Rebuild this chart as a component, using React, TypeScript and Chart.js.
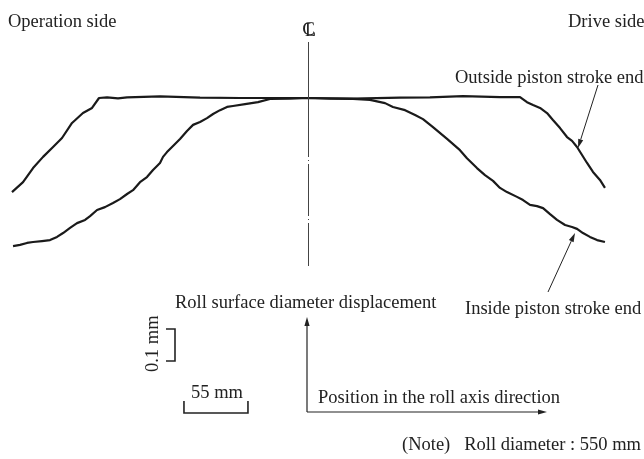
import React, { useEffect, useRef } from "react";
import { Chart, registerables } from "chart.js";

Chart.register(...registerables);

// Position along the roll axis (mm, 0 = roll centre) and roll surface diameter displacement (mm)
const outsideX = [-254.4, -244.9, -236.3, -227.7, -219.1, -211.4, -202.8, -193.4, -185.6, -179.6, -172.7, -163.3, -155.5, -127.2, -92.8, -58.4, -32.7, 0, 38.7, 79.1, 104.8, 133.2, 165.0, 182.2, 188.2, 193.4, 199.4, 205.4, 210.5, 216.6, 222.6, 226.9, 231.2, 235.5, 239.8, 244.9, 250.9, 255.2];
const outsideY = [-0.294, -0.263, -0.219, -0.184, -0.153, -0.125, -0.078, -0.047, -0.031, 0.0, 0.002, -0.001, 0.002, 0.005, 0.001, 0.0, 0.0, 0.0, -0.002, 0.001, 0.002, 0.006, 0.003, 0.003, -0.013, -0.022, -0.031, -0.047, -0.069, -0.094, -0.122, -0.134, -0.153, -0.178, -0.203, -0.231, -0.256, -0.281];

const insideX = [-253.5, -247.5, -241.5, -236.3, -228.6, -221.7, -215.7, -210.5, -204.5, -198.5, -191.6, -187.3, -181.3, -174.5, -167.6, -161.6, -155.5, -150.4, -144.4, -138.4, -133.2, -127.2, -124.6, -121.2, -116.0, -110.0, -104.0, -98.8, -92.8, -86.8, -81.6, -75.6, -69.6, -64.5, -54.1, -43.0, -32.7, -15.5, 0, 18.9, 38.7, 53.3, 66.2, 73.0, 83.4, 92.0, 98.8, 107.4, 119.5, 130.6, 136.6, 145.2, 152.1, 159.0, 165.0, 171.0, 179.6, 184.8, 190.8, 196.8, 202.0, 208.0, 214.0, 220.9, 226.9, 231.2, 236.3, 242.3, 248.4, 255.2];
const insideY = [-0.463, -0.459, -0.453, -0.45, -0.447, -0.444, -0.434, -0.422, -0.406, -0.391, -0.381, -0.369, -0.35, -0.341, -0.328, -0.316, -0.3, -0.288, -0.263, -0.247, -0.225, -0.203, -0.184, -0.169, -0.15, -0.128, -0.103, -0.084, -0.075, -0.063, -0.05, -0.038, -0.028, -0.025, -0.019, -0.013, -0.003, -0.002, 0.0, -0.002, -0.003, -0.006, -0.016, -0.028, -0.038, -0.053, -0.066, -0.091, -0.128, -0.163, -0.188, -0.219, -0.241, -0.259, -0.281, -0.294, -0.309, -0.319, -0.334, -0.338, -0.344, -0.363, -0.381, -0.397, -0.403, -0.409, -0.422, -0.434, -0.444, -0.45];

// Scale bars
const scaleBarLengthMm = 55;
const scaleBarHeightMm = 0.1;

const labels = {
  operation: "Operation side",
  drive: "Drive side",
  outside: "Outside piston stroke end",
  inside: "Inside piston stroke end",
  yAxis: "Roll surface diameter displacement",
  xAxis: "Position in the roll axis direction",
  note: "(Note)   Roll diameter : 550 mm",
  xBar: "55 mm",
  yBar: "0.1 mm",
};

const SERIF = '"Liberation Serif", "Times New Roman", "DejaVu Serif", serif';

function arrow(ctx: CanvasRenderingContext2D, x1: number, y1: number, x2: number, y2: number, head = 9, half = 2.6) {
  ctx.beginPath();
  ctx.moveTo(x1, y1);
  const ang = Math.atan2(y2 - y1, x2 - x1);
  const bx = x2 - Math.cos(ang) * head;
  const by = y2 - Math.sin(ang) * head;
  ctx.lineTo(bx, by);
  ctx.stroke();
  ctx.beginPath();
  ctx.moveTo(x2, y2);
  ctx.lineTo(bx + Math.sin(ang) * half, by - Math.cos(ang) * half);
  ctx.lineTo(bx - Math.sin(ang) * half, by + Math.cos(ang) * half);
  ctx.closePath();
  ctx.fill();
}

const annotations = {
  id: "annotations",
  afterDraw(chart: any) {
    const ctx: CanvasRenderingContext2D = chart.ctx;
    const xs = chart.scales.x;
    const ys = chart.scales.y;
    ctx.save();
    // centre line
    const cx = Math.round(xs.getPixelForValue(0)) + 0.5;
    ctx.strokeStyle = "#444";
    ctx.lineWidth = 1;
    ctx.setLineDash([115, 3, 1, 3, 52, 3, 1, 3, 60]);
    ctx.beginPath();
    ctx.moveTo(cx, 42);
    ctx.lineTo(cx, 266);
    ctx.stroke();
    ctx.setLineDash([]);

    // CL symbol
    ctx.fillStyle = "#222";
    ctx.font = "19px " + SERIF;
    ctx.textAlign = "center";
    ctx.textBaseline = "alphabetic";
    ctx.fillText("C", cx, 35);
    ctx.font = "18px " + SERIF;
    ctx.fillText("L", cx + 2, 36);

    ctx.font = "18.5px " + SERIF;
    ctx.textAlign = "left";
    ctx.fillText(labels.operation, 8, 26.5);
    ctx.fillText(labels.drive, 568, 27);
    ctx.fillText(labels.outside, 455, 83);
    ctx.fillText(labels.yAxis, 175, 308);
    ctx.fillText(labels.inside, 465, 314);
    ctx.fillText(labels.xAxis, 318, 403);
    ctx.fillText(labels.note, 402, 450);
    ctx.fillText(labels.xBar, 191, 398);
    ctx.save();
    ctx.translate(158, 372);
    ctx.rotate(-Math.PI / 2);
    ctx.fillText(labels.yBar, 0, 0);
    ctx.restore();

    // leader arrows
    ctx.strokeStyle = "#222";
    ctx.fillStyle = "#222";
    ctx.lineWidth = 1;
    arrow(ctx, 598, 85, 578, 148);
    arrow(ctx, 548, 292, 575, 233);

    // axis arrows
    ctx.lineWidth = 1.2;
    arrow(ctx, 307, 412, 307, 317);
    arrow(ctx, 307, 412, 547, 412);

    // 55 mm scale bar
    const bx1 = xs.getPixelForValue(-106.6);
    const bx2 = xs.getPixelForValue(-106.6 + scaleBarLengthMm);
    ctx.lineWidth = 1.6;
    ctx.beginPath();
    ctx.moveTo(bx1, 401);
    ctx.lineTo(bx1, 413);
    ctx.lineTo(bx2, 413);
    ctx.lineTo(bx2, 401);
    ctx.stroke();

    // 0.1 mm scale bar
    const by1 = ys.getPixelForValue(-0.722);
    const by2 = ys.getPixelForValue(-0.722 - scaleBarHeightMm);
    ctx.beginPath();
    ctx.moveTo(166, by1);
    ctx.lineTo(175, by1);
    ctx.lineTo(175, by2);
    ctx.lineTo(166, by2);
    ctx.stroke();
    ctx.restore();
  },
};

export default function App() {
  const ref = useRef<HTMLCanvasElement | null>(null);
  useEffect(() => {
    document.body.style.margin = "0";
    const canvas = ref.current;
    if (!canvas) return;
    const toPts = (xa: number[], ya: number[]) => xa.map((x, i) => ({ x, y: ya[i] }));
    const chart = new Chart(canvas, {
      type: "line",
      data: {
        datasets: [
          {
            label: "Outside piston stroke end",
            data: toPts(outsideX, outsideY),
            borderColor: "#1a1a1a",
            borderWidth: 2.2,
            borderJoinStyle: "round",
            pointRadius: 0,
            tension: 0,
            fill: false,
          },
          {
            label: "Inside piston stroke end",
            data: toPts(insideX, insideY),
            borderColor: "#1a1a1a",
            borderWidth: 2.2,
            borderJoinStyle: "round",
            pointRadius: 0,
            tension: 0,
            fill: false,
          },
        ],
      },
      options: {
        responsive: false,
        animation: false,
        layout: { padding: 0 },
        plugins: { legend: { display: false }, tooltip: { enabled: false }, title: { display: false } },
        scales: {
          x: { type: "linear", display: false, min: -264.7, max: 288.75 },
          y: { type: "linear", display: false, min: -1.128125, max: 0.30625 },
        },
      },
      plugins: [annotations],
    });
    return () => chart.destroy();
  }, []);
  return (
    <div style={{ width: 644, height: 459, background: "#fff" }}>
      <canvas ref={ref} width={644} height={459} style={{ display: "block" }} />
    </div>
  );
}
